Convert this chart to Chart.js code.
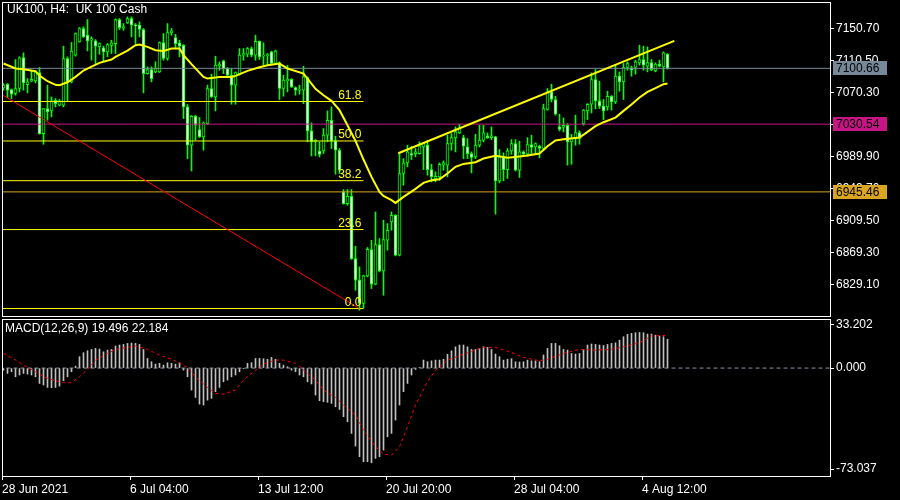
<!DOCTYPE html>
<html>
<head>
<meta charset="utf-8">
<title>UK100 H4</title>
<script src="https://cdn.jsdelivr.net/npm/chart.js@4.4.1/dist/chart.umd.min.js"></script>
<style>
    html, body { margin: 0; padding: 0; background: #000; }
    #wrap { position: relative; width: 900px; height: 500px; background: #000; overflow: hidden; }
    #priceChart { position: absolute; left: 0; top: 0; }
    #macdChart { position: absolute; left: 0; top: 318px; }
</style>
</head>
<body>
<div id="wrap">
    <canvas id="priceChart" width="900" height="318"></canvas>
    <canvas id="macdChart" width="900" height="182"></canvas>
</div>
<script>
// UK100 H4 candles, bar 0 .. 166
const opens = [
    7076.1, 7080.7, 7074.0, 7069.0, 7075.3, 7114.2, 7080.3, 7084.5, 7084.9, 7095.4,
    7018.7, 7050.2, 7047.2, 7060.6, 7054.3, 7054.3, 7113.0, 7083.7, 7117.2, 7133.9,
    7150.7, 7142.3, 7136.0, 7135.2, 7127.6, 7126.4, 7121.3, 7129.3, 7131.8, 7162.0,
    7151.1, 7157.8, 7163.2, 7154.9, 7154.9, 7149.4, 7094.1, 7099.1, 7096.2, 7096.2,
    7133.1, 7113.0, 7145.2, 7139.4, 7132.7, 7129.7, 7052.2, 7004.1, 7040.5, 7023.8,
    7014.6, 7031.3, 7075.3, 7064.8, 7103.3, 7110.0, 7100.4, 7092.0, 7079.5, 7094.1,
    7117.2, 7118.4, 7125.5, 7117.2, 7134.7, 7115.9, 7116.7, 7121.3, 7106.7, 7107.5,
    7075.3, 7084.9, 7087.0, 7076.5, 7073.2, 7073.2, 7089.1, 7022.1, 7008.3, 6996.6,
    6997.0, 7016.7, 7035.5, 7009.5, 6997.8, 6945.4, 6930.8, 6940.0, 6861.7, 6834.5,
    6805.2, 6839.9, 6873.0, 6829.4, 6879.3, 6846.2, 6884.7, 6907.8, 6916.1, 6865.9,
    6968.5, 6981.9, 6993.6, 6993.6, 6993.6, 7002.0, 7004.1, 6973.5, 6962.2, 6964.3,
    6979.0, 6979.0, 7006.2, 7013.3, 7019.6, 7013.7, 7002.0, 6993.6, 6989.4, 7004.1,
    7010.4, 7015.8, 7013.7, 7014.6, 6959.3, 6989.4, 6973.5, 6997.0, 7006.2, 6972.7,
    6995.7, 6992.8, 7004.9, 7002.0, 7002.8, 6999.9, 7048.9, 7071.1, 7061.5, 7027.1,
    7026.3, 7029.2, 7008.3, 7012.5, 7020.0, 7031.3, 7047.2, 7055.6, 7086.6, 7059.8,
    7053.1, 7052.2, 7065.6, 7058.5, 7090.8, 7083.7, 7101.7, 7101.2, 7101.7, 7107.5,
    7111.7, 7103.3, 7107.9, 7097.5, 7105.9, 7102.5, 7118.4
];
const highs = [
    7081.6, 7081.6, 7074.9, 7111.7, 7115.1, 7120.1, 7087.8, 7098.3, 7097.5, 7101.7,
    7050.2, 7079.5, 7064.8, 7062.7, 7061.5, 7128.5, 7115.1, 7133.1, 7145.2, 7151.9,
    7152.8, 7162.0, 7140.2, 7136.8, 7132.7, 7128.5, 7131.8, 7136.0, 7162.8, 7163.2,
    7156.9, 7165.3, 7165.3, 7156.9, 7159.0, 7150.7, 7102.5, 7102.5, 7108.8, 7133.9,
    7144.4, 7156.9, 7150.7, 7143.5, 7136.0, 7130.6, 7055.2, 7041.4, 7041.8, 7038.9,
    7033.4, 7079.5, 7093.3, 7115.9, 7108.8, 7110.9, 7101.7, 7100.4, 7096.2, 7125.5,
    7125.5, 7126.8, 7127.6, 7142.3, 7135.2, 7132.7, 7119.3, 7122.2, 7123.4, 7108.8,
    7092.0, 7104.6, 7087.8, 7077.4, 7079.5, 7103.3, 7089.9, 7032.1, 7011.2, 7008.3,
    7025.0, 7047.2, 7052.2, 7015.4, 6999.9, 6948.4, 6948.4, 6948.4, 6877.2, 6851.2,
    6840.8, 6875.5, 6884.7, 6920.3, 6886.8, 6909.9, 6905.7, 6920.3, 6917.0, 6993.6,
    6987.3, 7004.1, 7002.8, 6999.9, 7008.3, 7007.0, 7010.4, 6980.2, 6970.6, 6981.9,
    6984.4, 7016.7, 7018.7, 7027.1, 7030.5, 7016.7, 7012.5, 6995.7, 7017.9, 7029.2,
    7029.2, 7019.6, 7027.1, 7015.4, 6998.6, 6994.5, 6999.9, 7011.2, 7011.2, 7009.1,
    6997.0, 7013.7, 7016.7, 7007.0, 7004.1, 7055.6, 7075.3, 7080.7, 7065.6, 7043.0,
    7038.4, 7031.3, 7017.9, 7041.8, 7022.1, 7048.9, 7056.4, 7095.0, 7099.1, 7084.5,
    7061.5, 7071.9, 7066.5, 7104.6, 7096.2, 7106.7, 7108.8, 7103.3, 7110.9, 7129.7,
    7128.5, 7127.6, 7111.7, 7107.5, 7110.9, 7121.3, 7119.3
];
const lows = [
    7073.2, 7064.0, 7062.7, 7066.9, 7071.1, 7073.2, 7069.8, 7083.7, 7082.4, 7017.9,
    7005.3, 7035.5, 7039.7, 7052.2, 7053.5, 7052.2, 7059.8, 7082.4, 7115.9, 7133.5,
    7139.4, 7122.6, 7110.9, 7106.7, 7118.4, 7108.8, 7115.1, 7119.3, 7119.3, 7149.4,
    7148.6, 7156.9, 7140.2, 7131.8, 7140.2, 7069.8, 7093.3, 7083.7, 7095.0, 7095.4,
    7110.9, 7110.9, 7142.3, 7126.8, 7115.1, 7037.6, 6987.3, 6971.8, 7010.4, 7013.7,
    6997.8, 7030.5, 7064.0, 7047.2, 7098.3, 7094.1, 7089.9, 7055.6, 7055.6, 7092.0,
    7110.9, 7115.1, 7115.1, 7110.9, 7111.7, 7104.6, 7104.6, 7105.9, 7105.9, 7061.5,
    7065.6, 7071.1, 7076.5, 7066.9, 7068.2, 7056.4, 7008.3, 6990.7, 6990.7, 6989.4,
    6993.6, 7008.3, 6999.9, 6967.7, 6968.5, 6929.9, 6928.7, 6860.5, 6821.9, 6796.8,
    6799.7, 6838.7, 6824.0, 6828.6, 6844.9, 6815.6, 6872.2, 6897.3, 6865.0, 6865.0,
    6953.8, 6976.9, 6986.1, 6989.4, 6992.8, 6973.5, 6966.4, 6958.0, 6958.0, 6960.1,
    6972.7, 6964.3, 6997.8, 6995.7, 7018.7, 6987.3, 6987.3, 6969.3, 6987.3, 7002.0,
    7008.3, 7012.5, 7011.2, 6917.4, 6956.8, 6959.3, 6962.2, 6992.8, 6971.8, 6963.5,
    6990.3, 6990.3, 6993.6, 6993.6, 6988.2, 6997.8, 7048.1, 7058.5, 7041.8, 7022.1,
    7020.8, 6979.0, 6980.2, 7004.1, 7005.3, 7029.2, 7036.3, 7044.7, 7049.7, 7050.2,
    7036.3, 7048.1, 7048.1, 7056.4, 7071.9, 7061.5, 7098.3, 7090.8, 7093.3, 7104.6,
    7098.3, 7096.2, 7097.5, 7096.2, 7102.5, 7083.7, 7099.6
];
const closes = [
    7079.5, 7073.2, 7068.2, 7075.3, 7113.8, 7082.4, 7083.7, 7087.0, 7096.2, 7018.7,
    7050.2, 7046.0, 7059.8, 7056.4, 7059.8, 7113.0, 7083.7, 7122.2, 7144.4, 7150.7,
    7140.2, 7135.2, 7138.1, 7128.5, 7131.8, 7121.3, 7130.6, 7132.7, 7162.0, 7151.9,
    7152.8, 7163.2, 7154.9, 7154.0, 7149.4, 7094.1, 7099.1, 7087.8, 7100.4, 7133.1,
    7113.0, 7145.6, 7147.7, 7131.8, 7128.5, 7052.2, 7004.1, 7040.5, 7029.2, 7014.6,
    7032.1, 7075.3, 7064.8, 7104.6, 7105.9, 7100.4, 7092.0, 7079.5, 7095.4, 7117.2,
    7119.3, 7125.5, 7117.2, 7134.7, 7115.1, 7117.2, 7118.0, 7106.7, 7122.2, 7075.3,
    7085.8, 7087.0, 7077.4, 7073.2, 7074.4, 7089.9, 7022.1, 7008.3, 7010.4, 6992.4,
    7016.7, 7035.5, 7009.5, 6997.8, 6972.7, 6930.8, 6940.0, 6861.7, 6834.5, 6805.2,
    6839.9, 6873.4, 6829.4, 6879.3, 6846.2, 6885.6, 6897.3, 6916.1, 6865.9, 6968.5,
    6981.9, 6995.7, 6991.5, 6995.7, 7003.2, 7006.2, 6973.5, 6964.3, 6965.1, 6980.2,
    6981.9, 7006.2, 7013.7, 7020.8, 7025.0, 7002.8, 6993.6, 6988.6, 7004.1, 7010.4,
    7019.6, 7013.7, 7015.8, 6959.3, 6989.4, 6973.5, 6997.0, 7006.2, 6972.7, 6995.7,
    6992.8, 7004.9, 7001.2, 7006.2, 6999.9, 7050.2, 7071.1, 7061.5, 7043.0, 7023.8,
    7029.2, 7008.3, 7012.5, 7020.0, 7012.5, 7048.1, 7055.6, 7086.6, 7059.8, 7053.1,
    7047.2, 7065.6, 7058.5, 7090.8, 7083.7, 7101.7, 7106.7, 7098.3, 7108.8, 7111.7,
    7104.6, 7107.9, 7099.1, 7105.9, 7103.3, 7120.1, 7100.66
];

// yellow moving average, read at these bars
const maBars = [
    0, 3, 5, 8, 9, 11, 13, 14, 16, 18, 20, 22, 24, 27, 28, 31, 33, 34, 36, 38,
    40, 42, 44, 45, 47, 50, 51, 54, 57, 58, 61, 64, 66, 69, 71, 75, 76, 78, 80, 82,
    84, 86, 88, 90, 92, 94, 95, 97, 98, 100, 103, 105, 107, 109, 111, 113, 115, 118, 120, 123,
    126, 128, 131, 134, 136, 138, 140, 144, 146, 148, 150, 153, 155, 157, 159, 161, 163, 165, 166
];
const maValues = [
    7106.7, 7100.4, 7099.6, 7097.1, 7091.6, 7084.5, 7079.9, 7079.5, 7083.2, 7089.9,
    7097.9, 7102.9, 7107.5, 7111.7, 7115.1, 7123.0, 7129.7, 7130.6, 7127.6, 7123.4,
    7122.6, 7125.5, 7125.5, 7117.2, 7105.9, 7089.9, 7087.8, 7089.9, 7089.9, 7091.2,
    7097.5, 7102.1, 7104.6, 7106.7, 7100.4, 7094.1, 7087.8, 7074.9, 7066.9, 7059.8,
    7048.1, 7029.2, 7009.5, 6986.1, 6964.3, 6945.4, 6940.4, 6935.0, 6931.6, 6939.2,
    6949.2, 6956.8, 6960.1, 6961.4, 6968.5, 6976.9, 6980.6, 6982.7, 6987.3, 6990.7,
    6988.2, 6989.4, 6991.1, 6993.6, 7002.8, 7010.0, 7011.6, 7013.7, 7020.8, 7028.0,
    7033.0, 7038.8, 7047.2, 7055.2, 7064.0, 7071.1, 7075.7, 7080.7, 7081.6
];

// MACD(12,26,9) histogram per bar, signal read at these bars
const macdHist = [
    -1.4, -3.6, -2.5, -5.9, -4.7, -3.6, -4.1, -4.7, -5.9, -10.4,
    -11.5, -13.1, -13.3, -13.1, -12.2, -8.6, -5.9, -2.5, 1.3, 7.7,
    10.4, 11.7, 12.6, 13.3, 12.9, 11.0, 12.2, 12.6, 14.9, 15.6,
    16.0, 16.7, 16.9, 16.7, 16.0, 12.6, 6.5, 4.3, 2.7, 3.2,
    2.0, 3.6, 3.2, 2.7, 3.6, -1.4, -5.9, -14.9, -19.9, -24.4,
    -25.0, -21.7, -20.5, -16.0, -13.1, -9.3, -8.1, -5.9, -4.7, -2.5,
    -0.2, 3.2, 3.6, 6.5, 6.5, 6.3, 5.9, 7.2, 5.9, 3.2,
    2.0, 0.9, -1.4, -2.5, -4.7, -5.9, -9.3, -10.8, -18.3, -22.1,
    -22.8, -23.2, -23.9, -26.2, -28.0, -32.9, -36.3, -44.2, -52.8, -60.0,
    -63.4, -63.4, -64.1, -61.1, -60.0, -55.5, -46.5, -44.2, -35.2, -25.0,
    -16.0, -10.4, -4.7, -0.9, 0.4, 5.4, 4.3, 4.9, 5.4, 5.4,
    5.9, 9.3, 11.7, 14.4, 15.6, 15.6, 14.4, 12.6, 12.6, 13.3,
    14.4, 14.0, 12.6, 9.5, 7.7, 5.4, 5.9, 6.3, 4.3, 4.1,
    4.3, 5.4, 4.9, 4.9, 4.3, 8.8, 13.3, 16.7, 16.7, 15.1,
    12.6, 12.2, 9.9, 9.5, 9.9, 12.6, 15.6, 16.3, 16.0, 15.6,
    15.3, 16.0, 16.7, 17.1, 18.9, 21.2, 22.8, 23.5, 23.9, 24.1,
    23.9, 23.0, 23.0, 22.3, 21.7, 21.2, 19.496
];
const signalBars = [
    0, 3, 5, 8, 10, 13, 15, 17, 19, 21, 23, 26, 28, 31, 33, 36, 39, 43, 46, 48,
    51, 53, 55, 58, 60, 63, 65, 68, 70, 73, 75, 78, 80, 83, 85, 88, 90, 93, 95, 97,
    99, 101, 103, 106, 108, 109, 111, 116, 120, 123, 127, 130, 134, 136, 140, 144, 148, 152, 155, 159,
    162, 166
];
const signalValues = [
    9.9, 5.4, 2.0, -2.5, -5.9, -8.6, -9.9, -9.9, -5.9, -0.9,
    5.4, 9.9, 12.6, 14.0, 14.9, 12.6, 8.8, 4.9, 0.4, -5.9,
    -13.1, -17.1, -17.6, -14.9, -8.1, -1.4, 2.7, 5.4, 5.4, 3.2,
    -1.4, -8.1, -14.9, -19.9, -25.0, -31.8, -42.0, -53.2, -58.2, -58.9,
    -53.2, -39.7, -25.0, -9.3, -1.4, 0.4, 5.4, 10.4, 14.0, 14.0,
    10.6, 7.2, 4.9, 5.9, 9.9, 12.6, 12.2, 12.6, 14.4, 17.1,
    21.7, 22.184
];

// objects drawn on the price chart
const fibLevels = [6798.9, 6898.1, 6959.5, 7009.4, 7059.0];
const fibLabels = ['0.0', '23.6', '38.2', '50.0', '61.8'];
const fibEndBar = 90;
const fibTrendBars = [-51, 89];
const fibTrendPrices = [7219.8, 6798.9];
const channelBars = [98.7, 167.7];
const channelPrices = [6994.0, 7135.1];
const priceLines = [7100.66, 7030.54, 6945.46];
const priceLineColors = ['#778899', '#c71585', '#daa520'];

// axes
const priceTicks = [7150.70, 7110.50, 7070.30, 7030.10, 6989.90, 6949.70, 6909.50, 6869.30, 6829.10];
const priceMin = 6789.53, priceMax = 7184.0;
const timeTickBars = [0, 32, 64, 96, 128, 160];
const timeLabels = ['28 Jun 2021', '6 Jul 04:00', '13 Jul 12:00', '20 Jul 20:00', '28 Jul 04:00', '4 Aug 12:00'];
const macdMax = 33.202, macdMin = -73.037;

// 4 px per bar, 828 px plot width
const X_MIN = -0.375, X_MAX = 206.625;
const LIME = '#00ff00';
const FONT = "12px 'Liberation Sans', Arial, sans-serif";

Chart.defaults.font.family = "'Liberation Sans', Arial, sans-serif";
Chart.defaults.font.size = 12;
Chart.defaults.color = '#ffffff';

const barIdx = opens.map((_, i) => i);

function lineSet(points, color, width, order, dash) {
    return {
        type: 'line',
        data: points,
        borderColor: color,
        borderWidth: width,
        borderDash: dash || [],
        pointRadius: 0,
        tension: 0,
        fill: false,
        clip: 0,
        order: order
    };
}

function rightAxisFit(scale) {
    scale.width = 70;
    scale.paddingTop = 0;
    scale.paddingBottom = 0;
}

const framePlugin = {
    id: 'frame',
    afterDraw(chart) {
        const a = chart.chartArea;
        const ctx = chart.ctx;
        ctx.save();
        ctx.strokeStyle = '#ffffff';
        ctx.lineWidth = 1;
        ctx.strokeRect(a.left + 0.5, a.top + 0.5, a.right - a.left, a.bottom - a.top);
        ctx.restore();
    }
};

const priceTextPlugin = {
    id: 'priceText',
    afterDraw(chart) {
        const ctx = chart.ctx;
        const xs = chart.scales.x, ys = chart.scales.y;
        const right = chart.chartArea.right;
        ctx.save();
        ctx.font = FONT;

        ctx.fillStyle = '#ffffff';
        ctx.textAlign = 'left';
        ctx.textBaseline = 'top';
        ctx.fillText('UK100, H4:  UK 100 Cash', 7, 4);

        ctx.fillStyle = '#ffff00';
        ctx.textAlign = 'right';
        ctx.textBaseline = 'alphabetic';
        fibLevels.forEach((v, k) => {
            ctx.fillText(fibLabels[k], xs.getPixelForValue(fibEndBar) - 2, ys.getPixelForValue(v) - 3);
        });

        ctx.textAlign = 'left';
        ctx.textBaseline = 'middle';
        priceLines.forEach((v, k) => {
            const y = Math.round(ys.getPixelForValue(v));
            ctx.fillStyle = priceLineColors[k];
            ctx.fillRect(right + 3, y - 7, 54, 14);
            ctx.fillStyle = '#000000';
            ctx.fillText(v.toFixed(2), right + 6, y + 0.5);
        });
        ctx.restore();
    }
};

const macdTextPlugin = {
    id: 'macdText',
    afterDraw(chart) {
        const ctx = chart.ctx;
        const last = macdHist.length - 1;
        ctx.save();
        ctx.font = FONT;
        ctx.fillStyle = '#ffffff';
        ctx.textAlign = 'left';
        ctx.textBaseline = 'top';
        ctx.fillText('MACD(12,26,9) ' + macdHist[last].toFixed(3) + ' ' +
            signalValues[signalValues.length - 1].toFixed(3), 5, 5);
        ctx.restore();
    }
};

// ---- price chart ----
const priceDatasets = [
    lineSet(maBars.map((b, i) => ({ x: b, y: maValues[i] })), '#ffff00', 2, 0),
    lineSet(channelBars.map((b, i) => ({ x: b, y: channelPrices[i] })), '#ffff00', 2, 0),
    lineSet(fibTrendBars.map((b, i) => ({ x: b, y: fibTrendPrices[i] })), '#ff0000', 1, 2)
];
fibLevels.forEach(v => {
    priceDatasets.push(lineSet([{ x: -1, y: v }, { x: fibEndBar, y: v }], '#ffff00', 1, 3));
});
priceLines.forEach((v, k) => {
    priceDatasets.push(lineSet([{ x: -1, y: v }, { x: 300, y: v }], priceLineColors[k], 1, 4));
});
priceDatasets.push({
    type: 'bar',
    label: 'bodies',
    data: barIdx.map(i => ({ x: i, y: [opens[i], closes[i]] })),
    backgroundColor: barIdx.map(i => closes[i] < opens[i] ? '#ffffff' : '#000000'),
    borderColor: LIME,
    borderWidth: 1,
    borderSkipped: false,
    barThickness: 3,
    minBarLength: 1,
    grouped: false,
    order: 10
});
priceDatasets.push({
    type: 'bar',
    label: 'wicks',
    data: barIdx.map(i => ({ x: i, y: [lows[i], highs[i]] })),
    backgroundColor: LIME,
    borderWidth: 0,
    barThickness: 1,
    grouped: false,
    order: 11
});

new Chart(document.getElementById('priceChart'), {
    type: 'line',
    data: { datasets: priceDatasets },
    options: {
        responsive: false,
        animation: false,
        events: [],
        layout: { padding: { left: 2, top: 2, right: 0, bottom: 2 }, autoPadding: false },
        plugins: { legend: { display: false }, tooltip: { enabled: false } },
        scales: {
            x: { type: 'linear', min: X_MIN, max: X_MAX, offset: false, display: false },
            y: {
                type: 'linear',
                position: 'right',
                min: priceMin,
                max: priceMax,
                afterBuildTicks: s => { s.ticks = priceTicks.map(v => ({ value: v })); },
                afterFit: rightAxisFit,
                ticks: { color: '#ffffff', padding: 2, autoSkip: false, callback: v => v.toFixed(2) },
                grid: { drawOnChartArea: false, drawTicks: true, tickLength: 4, color: '#ffffff' },
                border: { display: false }
            }
        }
    },
    plugins: [framePlugin, priceTextPlugin]
});

// ---- MACD chart ----
new Chart(document.getElementById('macdChart'), {
    type: 'line',
    data: {
        datasets: [
            lineSet(signalBars.map((b, i) => ({ x: b, y: signalValues[i] })), '#ff0000', 1, 0, [3, 3]),
            {
                type: 'bar',
                label: 'MACD',
                data: macdHist.map((v, i) => ({ x: i, y: v })),
                backgroundColor: '#c0c0c0',
                borderWidth: 0,
                barThickness: 1,
                grouped: false,
                order: 2
            },
            lineSet([{ x: -1, y: 0 }, { x: 300, y: 0 }], '#8c96a8', 1, 3, [4, 3])
        ]
    },
    options: {
        responsive: false,
        animation: false,
        events: [],
        layout: { padding: { left: 2, top: 1, right: 0, bottom: 0 }, autoPadding: false },
        plugins: { legend: { display: false }, tooltip: { enabled: false } },
        scales: {
            x: {
                type: 'linear',
                min: X_MIN,
                max: X_MAX,
                offset: false,
                afterBuildTicks: s => { s.ticks = timeTickBars.map(b => ({ value: b - 0.375 })); },
                afterFit: s => { s.height = 24; s.paddingLeft = 0; s.paddingRight = 0; },
                ticks: {
                    color: '#ffffff', align: 'start', maxRotation: 0, minRotation: 0,
                    autoSkip: false, padding: 2, callback: (v, i) => timeLabels[i]
                },
                grid: { drawOnChartArea: false, drawTicks: true, tickLength: 4, color: '#ffffff', offset: false },
                border: { display: false }
            },
            y: {
                type: 'linear',
                position: 'right',
                min: macdMin,
                max: macdMax,
                afterBuildTicks: s => {
                    const r = s.max - s.min;
                    s.ticks = [{ value: s.max - r * 6 / 157 }, { value: 0 }, { value: s.min + r * 7 / 157 }];
                },
                afterFit: rightAxisFit,
                ticks: {
                    color: '#ffffff', padding: 2, autoSkip: false,
                    callback: (v, i) => [macdMax, 0, macdMin][i].toFixed(3)
                },
                grid: { drawOnChartArea: false, drawTicks: true, tickLength: 4, color: '#ffffff' },
                border: { display: false }
            }
        }
    },
    plugins: [framePlugin, macdTextPlugin]
});
</script>
</body>
</html>
